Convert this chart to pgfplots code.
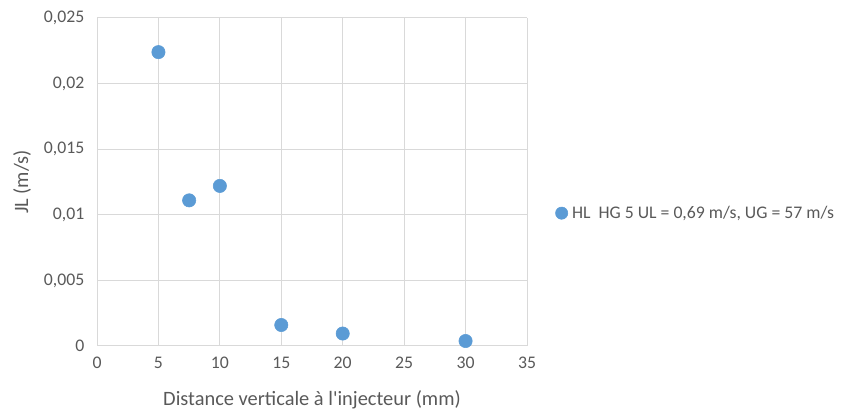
\documentclass[border=0pt]{standalone}
\usepackage{pgfplots}
\pgfplotsset{compat=1.18}
\usepackage{fontspec}
\setmainfont{Carlito}
\definecolor{txt}{HTML}{595959}
\definecolor{grd}{HTML}{D9D9D9}
\definecolor{ser}{HTML}{5B9BD5}
\begin{document}
\begin{tikzpicture}
\useasboundingbox (0pt,0pt) rectangle (633.75pt,306.75pt);
\begin{axis}[
  at={(72.75pt,47.25pt)}, anchor=south west,
  scale only axis, width=322.5pt, height=246pt,
  xmin=0, xmax=35, ymin=0, ymax=0.025,
  xtick={0,5,...,35}, ytick={0,0.005,...,0.025},
  grid=major, major grid style={grd, line width=0.75pt},
  axis line style={draw=none},
  tick style={draw=none},
  /pgf/number format/assume math mode=true,
  /pgf/number format/use comma,
  /pgf/number format/fixed,
  /pgf/number format/precision=3,
  scaled y ticks=false,
  ticklabel style={font=\fontsize{13.3pt}{15pt}\selectfont, text=txt},
  xticklabel style={yshift=-5pt},
  yticklabel style={xshift=-6pt},
  xlabel={Distance verticale à l\textquotesingle injecteur (mm)},
  ylabel={JL (m/s)},
  label style={font=\fontsize{15.3pt}{18pt}\selectfont, text=txt},
  xlabel style={at={(axis description cs:0.5,0)}, anchor=center, yshift=-40.5pt},
  ylabel style={at={(axis description cs:-0.174,0.5)}, anchor=center, rotate=0},
  legend style={at={(1.0,0.405)}, anchor=west, xshift=21pt, draw=none, fill=none,
    font=\fontsize{13.3pt}{16pt}\selectfont, text=txt, inner sep=0pt,
    /tikz/every even column/.append style={column sep=0pt}},
  legend cell align=left,
  legend image code/.code={\fill[ser] (0.1cm,0) circle (4.6pt);},
  clip=false,
]
\draw[grd, line width=0.75pt] (axis cs:0,0) -- (axis cs:35,0);
\addplot[only marks, mark=*, mark size=5pt, mark options={fill=ser, draw=ser}]
  coordinates {(5,0.0224) (7.5,0.0111) (10,0.0122) (15,0.0016) (20,0.00095) (30,0.00038)};
\addlegendentry{\hspace*{1pt}HL\ \ HG 5 UL = 0,69 m/s, UG = 57 m/s}
\end{axis}
\end{tikzpicture}
\end{document}
